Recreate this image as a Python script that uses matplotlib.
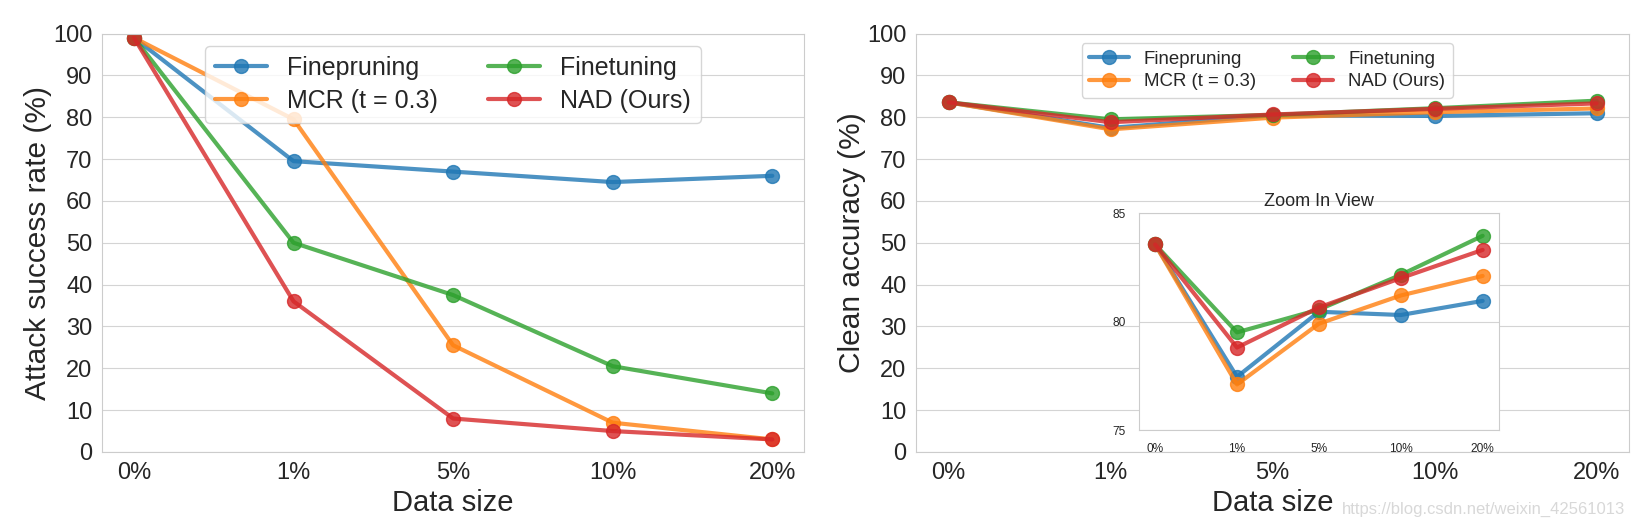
import matplotlib
matplotlib.use("Agg")
import matplotlib.pyplot as plt
import seaborn as sns
import numpy as np

# data
sizes = ["0%", "1%", "5%", "10%", "20%"]
methods = ["Finepruning", "MCR (t = 0.3)", "Finetuning", "NAD (Ours)"]
colors = ["tab:blue", "tab:orange", "tab:green", "tab:red"]

asr_fineprune = [99, 69.5, 67, 64.5, 66]
asr_mcr = [99, 79.5, 25.5, 7, 3]
asr_finetune = [99, 50, 37.5, 20.5, 14]
asr_nad = [99, 36, 8, 5, 3]

acc_fineprune = [83.55, 77.45, 80.45, 80.3, 80.95]
acc_mcr = [83.55, 77.1, 79.9, 81.2, 82.1]
acc_finetune = [83.55, 79.5, 80.55, 82.15, 83.95]
acc_nad = [83.55, 78.8, 80.65, 82.0, 83.3]

asr = [asr_fineprune, asr_mcr, asr_finetune, asr_nad]
acc = [acc_fineprune, acc_mcr, acc_finetune, acc_nad]

sns.set_style("whitegrid")
plt.rcParams['font.family'] = ['Liberation Sans', 'DejaVu Sans']
plt.rcParams['axes.edgecolor'] = '#cccccc'
plt.rcParams['grid.color'] = '#d4d4d4'

x = np.arange(len(sizes))
fig = plt.figure(figsize=(16.48, 5.32), dpi=100)
ax1 = fig.add_axes([0.0619, 0.1504, 0.4261, 0.7866])
ax2 = fig.add_axes([0.556, 0.1504, 0.4325, 0.7866])
axin = fig.add_axes([0.691, 0.1917, 0.2186, 0.4079])


def draw(ax, data, lw=3, ms=10):
    for vals, name, c in zip(data, methods, colors):
        ax.plot(x, vals, marker='o', color=c, lw=lw, ms=ms, alpha=0.8, label=name)


draw(ax1, asr)
draw(ax2, acc)
draw(axin, acc)

for ax, ylab in [(ax1, "Attack success rate (%)"), (ax2, "Clean accuracy (%)")]:
    ax.set_xlim(-0.2, 4.2)
    ax.set_ylim(0, 100)
    ax.set_yticks(range(0, 101, 10))
    ax.set_xticks(x)
    ax.set_xticklabels(sizes)
    ax.tick_params(labelsize=17, colors='#262626')
    ax.grid(axis='x', visible=False)
    ax.set_xlabel("Data size", fontsize=21, color='#262626', labelpad=4)
    ax.set_ylabel(ylab, fontsize=21.5, color='#262626', labelpad=1)

ax1.legend(ncol=2, fontsize=18, loc='upper left', bbox_to_anchor=(0.146, 0.970),
           borderaxespad=0, frameon=True, columnspacing=2.0, handlelength=2.1,
           handletextpad=0.8, labelspacing=0.35)
ax2.legend(ncol=2, fontsize=13.4, loc='upper left', bbox_to_anchor=(0.232, 0.977),
           borderaxespad=0, frameon=True, columnspacing=2.0, handlelength=2.15,
           handletextpad=0.8, labelspacing=0.3)

axin.set_xlim(-0.2, 4.2)
axin.set_ylim(75, 85)
axin.set_yticks([75, 80, 85])
axin.set_xticks(x)
axin.set_xticklabels(sizes)
axin.tick_params(labelsize=8.6, colors='#262626', pad=6)
axin.grid(axis='x', visible=False)
axin.set_title("Zoom In View", fontsize=13, color='#262626', pad=5)

fig.text(0.986, 0.028, "https://blog.csdn.net/weixin_42561013", fontsize=12,
         color='#d8d8d8', ha='right', va='bottom')

fig.savefig("out.png", dpi=100)
